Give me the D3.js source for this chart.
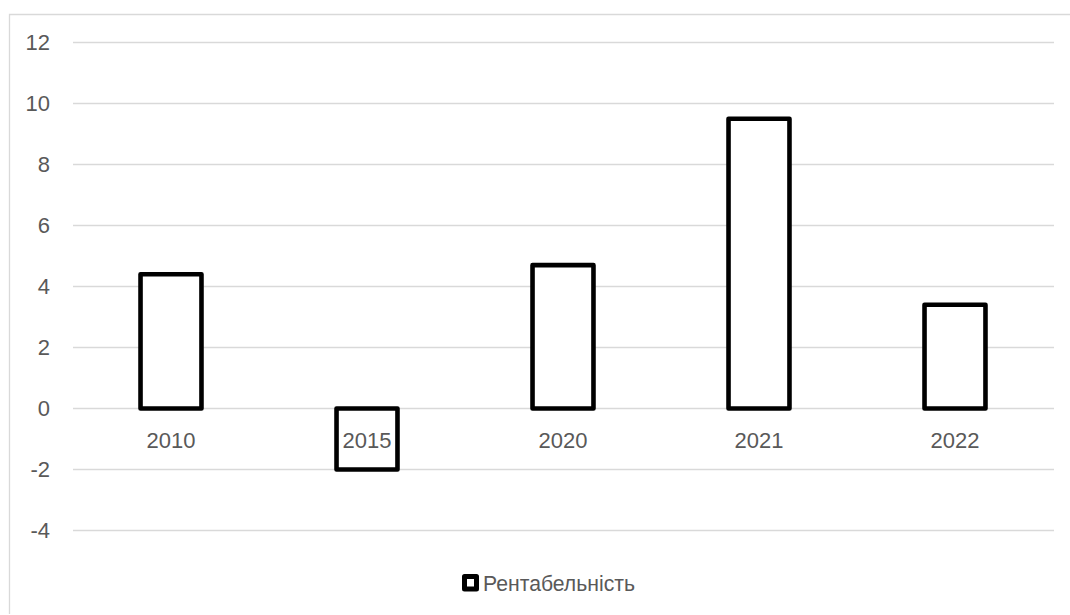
<!DOCTYPE html>
<html>
<head>
<meta charset="utf-8">
<script src="https://cdn.jsdelivr.net/npm/d3@7"></script>
<style>
  html, body { margin: 0; padding: 0; background: #fff; }
  svg { display: block; }
  text { font-family: "Liberation Sans", Arial, sans-serif; fill: #595959; }
</style>
</head>
<body>
<svg id="chart" width="1070" height="615"></svg>
<script>
const categories = ["2010", "2015", "2020", "2021", "2022"];
const values = [4.4, -2.0, 4.7, 9.5, 3.4];
const yTicks = [-4, -2, 0, 2, 4, 6, 8, 10, 12];
const yTickLabels = ["-4", "-2", "0", "2", "4", "6", "8", "10", "12"];
const seriesName = "Рентабельність";

const plot = { left: 73, right: 1053, top: 42.5, bottom: 530.5 };

const svg = d3.select("#chart");

// chart border
svg.append("path")
  .attr("d", `M9.5,614 L9.5,14.5 L1070,14.5`)
  .attr("fill", "none")
  .attr("stroke", "#d9d9d9")
  .attr("stroke-width", 1.3);

const x = d3.scaleBand()
  .domain(categories)
  .range([plot.left, plot.right])
  .paddingInner(0.689)
  .paddingOuter(0.3445);

const y = d3.scaleLinear()
  .domain([-4, 12])
  .range([plot.bottom, plot.top]);

// gridlines
svg.append("g")
  .selectAll("line")
  .data(yTicks)
  .join("line")
  .attr("x1", plot.left)
  .attr("x2", plot.right + 1)
  .attr("y1", d => y(d))
  .attr("y2", d => y(d))
  .attr("stroke", "#d9d9d9")
  .attr("stroke-width", 1.3);

// y axis labels
const yAxis = d3.axisLeft(y).tickValues(yTicks).tickSize(0).tickPadding(0)
  .tickFormat((d, i) => yTickLabels[i]);
const yg = svg.append("g").attr("transform", `translate(50,0)`).call(yAxis);
yg.select(".domain").remove();
yg.selectAll("text")
  .attr("font-size", 22)
  .attr("text-anchor", "end")
  .style("font-family", "Liberation Sans, Arial, sans-serif")
  .style("fill", "#595959");

// bars
svg.append("g")
  .selectAll("rect")
  .data(values)
  .join("rect")
  .attr("x", (d, i) => x(categories[i]))
  .attr("width", x.bandwidth())
  .attr("y", d => y(Math.max(0, d)))
  .attr("height", d => Math.abs(y(d) - y(0)))
  .attr("fill", "#fff")
  .attr("stroke", "#000")
  .attr("stroke-width", 4.6)
  .attr("stroke-linejoin", "round");

// category labels (axis)
const xAxis = d3.axisBottom(x).tickSize(0).tickPadding(0);
const xg = svg.append("g").attr("transform", `translate(0,${y(0)})`).call(xAxis);
xg.select(".domain").remove();
xg.selectAll("text")
  .attr("dy", null)
  .attr("y", 39.5)
  .attr("font-size", 22)
  .style("font-family", "Liberation Sans, Arial, sans-serif")
  .style("fill", "#595959");

// legend
const lg = svg.append("g");
lg.append("rect")
  .attr("x", 464.5)
  .attr("y", 576.5)
  .attr("width", 12)
  .attr("height", 12.5)
  .attr("fill", "#fff")
  .attr("stroke", "#000")
  .attr("stroke-width", 5)
  .attr("stroke-linejoin", "round");
lg.append("text")
  .attr("x", 483)
  .attr("y", 591)
  .attr("font-size", 21.5)
  .attr("textLength", 152)
  .attr("lengthAdjust", "spacingAndGlyphs")
  .text(seriesName);
</script>
</body>
</html>
